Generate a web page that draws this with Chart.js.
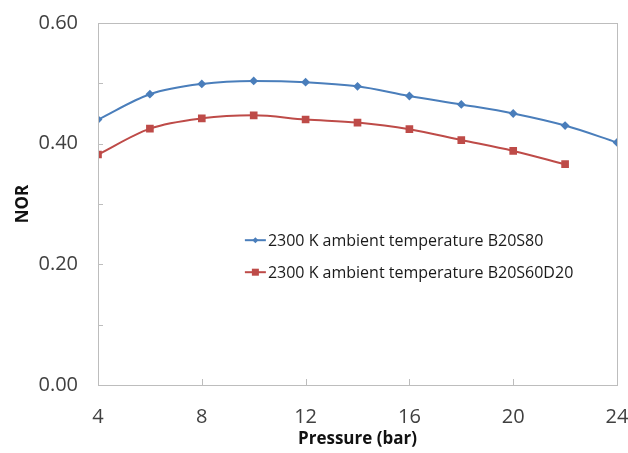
<!DOCTYPE html>
<html>
<head>
<meta charset="utf-8">
<script src="https://cdn.jsdelivr.net/npm/chart.js@4/dist/chart.umd.min.js"></script>
<style>
  html, body { margin: 0; padding: 0; background: #fff; }
  #wrap { width: 628px; height: 453px; }
</style>
</head>
<body>
<div id="wrap"><canvas id="norChart" width="628" height="453"></canvas></div>
<script>
// pressure steps (bar)
const pressure = [4, 6, 8, 10, 12, 14, 16, 18, 20, 22, 24];
// NOR values per fuel blend
const norB20S80 = [0.440, 0.482, 0.499, 0.504, 0.502, 0.495, 0.479, 0.465, 0.450, 0.430, 0.402];
const norB20S60D20 = [0.382, 0.425, 0.442, 0.447, 0.440, 0.435, 0.424, 0.406, 0.388, 0.366];
const seriesNames = ['2300 K ambient temperature B20S80', '2300 K ambient temperature B20S60D20'];

const BLUE = '#4A7EBB';
const RED = '#BE4B48';
const FONT = '"Open Sans", "DejaVu Sans", sans-serif';

function toPoints(values) {
    return values.map((v, i) => ({ x: pressure[i], y: v }));
}

// plot frame, inner tick marks and the legend box inside the plot
const framePlugin = {
    id: 'framePlugin',
    afterDraw(chart) {
        const { ctx, chartArea: a, scales } = chart;
        ctx.save();
        ctx.strokeStyle = '#BDBDBD';
        ctx.lineWidth = 1;
        ctx.strokeRect(Math.round(a.left) + 0.5, Math.round(a.top) + 0.5,
            Math.round(a.right - a.left), Math.round(a.bottom - a.top));

        ctx.beginPath();
        scales.y.ticks.forEach(t => {
            const py = Math.round(scales.y.getPixelForValue(t.value)) + 0.5;
            ctx.moveTo(a.left, py);
            ctx.lineTo(a.left + 5, py);
        });
        scales.x.ticks.forEach(t => {
            const px = Math.round(scales.x.getPixelForValue(t.value)) + 0.5;
            ctx.moveTo(px, a.bottom);
            ctx.lineTo(px, a.bottom - 6);
        });
        ctx.stroke();

        // legend
        const lx = a.left + (a.right - a.left) * 0.283;
        const ly = a.top + (a.bottom - a.top) * 0.6;
        ctx.font = '16px ' + FONT;
        ctx.textBaseline = 'middle';
        chart.data.datasets.forEach((ds, i) => {
            const y = ly + i * 32;
            ctx.strokeStyle = ds.borderColor;
            ctx.lineWidth = 2;
            ctx.beginPath();
            ctx.moveTo(lx, y);
            ctx.lineTo(lx + 21, y);
            ctx.stroke();
            ctx.fillStyle = ds.backgroundColor;
            if (ds.pointStyle === 'rect') {
                ctx.fillRect(lx + 7, y - 3.5, 7, 7);
            } else {
                ctx.beginPath();
                ctx.moveTo(lx + 10.5, y - 3);
                ctx.lineTo(lx + 13.5, y);
                ctx.lineTo(lx + 10.5, y + 3);
                ctx.lineTo(lx + 7.5, y);
                ctx.closePath();
                ctx.fill();
            }
            ctx.fillStyle = '#1a1a1a';
            ctx.textAlign = 'left';
            ctx.fillText(ds.label, lx + 23, y + 1);
        });
        ctx.restore();
    }
};

new Chart(document.getElementById('norChart'), {
    type: 'line',
    data: {
        datasets: [
            {
                label: seriesNames[0],
                data: toPoints(norB20S80),
                borderColor: BLUE,
                backgroundColor: BLUE,
                borderWidth: 2,
                pointStyle: 'rectRot',
                pointRadius: 3,
                cubicInterpolationMode: 'monotone'
            },
            {
                label: seriesNames[1],
                data: toPoints(norB20S60D20),
                borderColor: RED,
                backgroundColor: RED,
                borderWidth: 2,
                pointStyle: 'rect',
                pointRadius: 4,
                cubicInterpolationMode: 'monotone'
            }
        ]
    },
    options: {
        responsive: false,
        animation: false,
        layout: { padding: { top: 23, right: 11, left: 9, bottom: 0 } },
        plugins: {
            legend: { display: false },
            tooltip: { enabled: false }
        },
        scales: {
            x: {
                type: 'linear',
                min: 4,
                max: 24,
                grid: { display: false },
                border: { display: false },
                ticks: {
                    stepSize: 4,
                    padding: 12,
                    color: '#404040',
                    font: { family: FONT, size: 20 }
                },
                title: {
                    display: true,
                    text: 'Pressure (bar)',
                    color: '#111',
                    padding: { top: 6 },
                    font: { family: FONT, size: 17, weight: 'bold' }
                },
                afterFit(scale) {
                    scale.height = 68;
                    scale.paddingLeft = 0;
                    scale.paddingRight = 0;
                }
            },
            y: {
                min: 0,
                max: 0.6,
                grid: { display: false },
                border: { display: false },
                ticks: {
                    stepSize: 0.1,
                    padding: 12,
                    color: '#404040',
                    font: { family: FONT, size: 20 },
                    callback: v => (Math.round(v * 10) % 2 === 0 ? v.toFixed(2) : '')
                },
                title: {
                    display: true,
                    text: 'NOR',
                    color: '#111',
                    font: { family: FONT, size: 17, weight: 'bold' }
                },
                afterFit(scale) {
                    scale.width = 89;
                    scale.paddingTop = 0;
                    scale.paddingBottom = 0;
                }
            }
        }
    },
    plugins: [framePlugin]
});
</script>
</body>
</html>
